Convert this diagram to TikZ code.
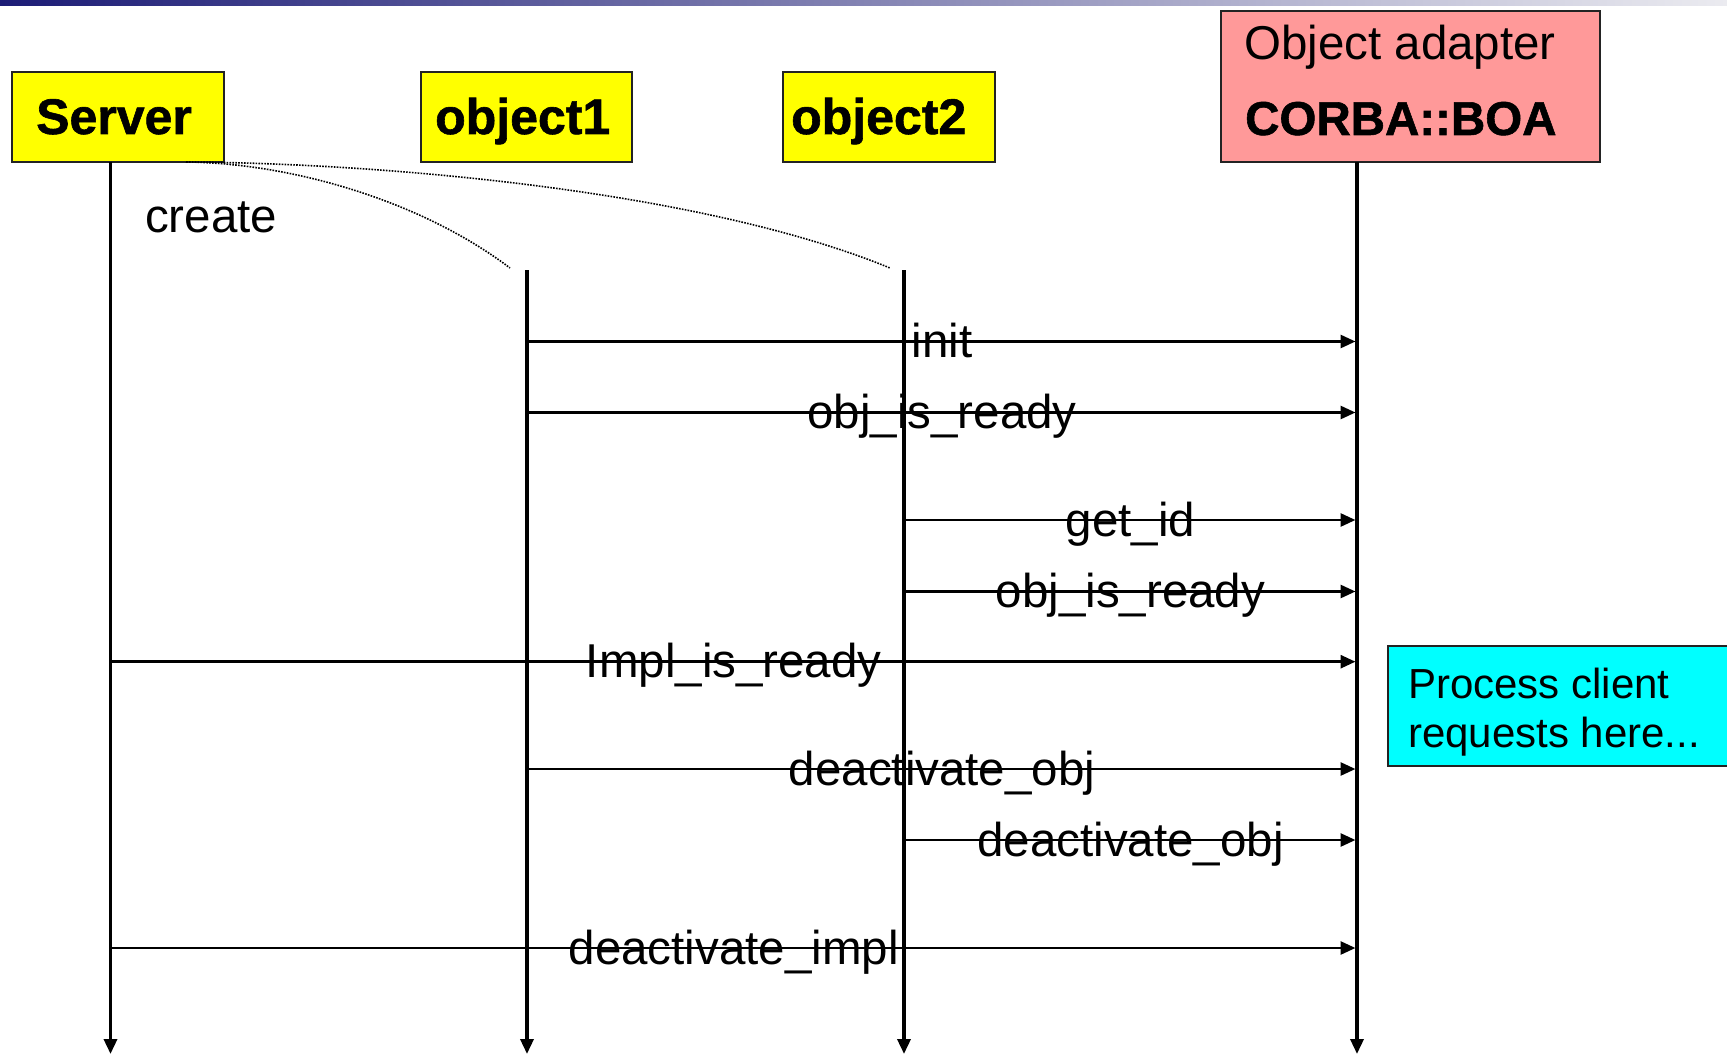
\documentclass[tikz,border=0pt]{standalone}
\usepackage{fontspec}
\setmainfont{Liberation Sans}
\newfontfamily\heavyfont{Liberation Sans Bold}[FakeBold=1.2]
\usetikzlibrary{arrows.meta,calc}
\definecolor{hdryellow}{RGB}{255,255,0}
\definecolor{boapink}{RGB}{255,153,153}
\definecolor{proccyan}{RGB}{0,255,255}
\definecolor{barnavy}{RGB}{28,28,118}
\definecolor{barmid}{RGB}{170,170,200}
\definecolor{barlight}{RGB}{235,235,240}
\definecolor{edgegray}{RGB}{35,35,35}
\begin{document}
\begin{tikzpicture}[x=1pt,y=-1pt,
  box/.style={draw=edgegray, line width=1.6pt, inner sep=0pt, outer sep=0pt, anchor=north west},
  life/.style={line width=3.4pt, -{Triangle[length=15pt,width=13pt]}},
  msg/.style={line width=2.8pt, -{Triangle[length=15pt,width=13pt]}},
  creation/.style={line width=1.6pt, dash pattern=on 1.6pt off 1.3pt},
  lbl/.style={font=\fontsize{47.5}{57}\selectfont, anchor=base, inner sep=0pt, yshift=-16pt},
  hdr/.style={font=\fontsize{50}{60}\heavyfont, anchor=base west, inner sep=0pt},
  plain/.style={font=\fontsize{47.5}{57}\selectfont, anchor=base west, inner sep=0pt},
  note/.style={font=\fontsize{42}{49}\selectfont, anchor=base west, inner sep=0pt},
]
\useasboundingbox (0,0) rectangle (1727,1054);
\fill[white] (0,0) rectangle (1727,1054);

% header shadow bar
\shade[left color=barnavy, middle color=barmid, right color=barlight] (0,0) rectangle (1727,6);

% participants
\node[box, fill=hdryellow, minimum width=212pt, minimum height=90pt] (server) at (12,72) {};
\node[box, fill=hdryellow, minimum width=211pt, minimum height=90pt] (object1) at (421,72) {};
\node[box, fill=hdryellow, minimum width=212pt, minimum height=90pt] (object2) at (783,72) {};
\node[box, fill=boapink, minimum width=379pt, minimum height=151pt] (boa) at (1221,11) {};

\node[hdr] (serverT) at (36,134) {Server};
\node[hdr] (object1T) at (435,134) {object1};
\node[hdr] (object2T) at (791,134) {object2};
\node[plain] (boaT1) at (1244,60) {Object adapter};
\node[plain, font=\fontsize{47.5}{57}\heavyfont] (boaT2) at (1245,135) {CORBA::BOA};

% note box running off the right edge
\begin{scope}
  \clip (0,0) rectangle (1727,1054);
  \node[box, fill=proccyan, minimum width=380pt, minimum height=120pt] (proc) at (1388,646) {};
\end{scope}
\node[note] (procT1) at (1408,698) {Process client};
\node[note] (procT2) at (1408,747) {requests here...};

% lifelines
\coordinate (srvTop) at (110.5,162);
\coordinate (o1Top)  at (527,270);
\coordinate (o2Top)  at (904,270);
\coordinate (boaTop) at (1357,162);
\coordinate (srvEnd) at (110.5,1054);
\coordinate (o1End)  at (527,1054);
\coordinate (o2End)  at (904,1054);
\coordinate (boaEnd) at (1357,1054);
\draw[life] (srvTop) -- (srvEnd);
\draw[life] (o1Top) -- (o1End);
\draw[life] (o2Top) -- (o2End);
\draw[life] (boaTop) -- (boaEnd);

% creation of the objects
\coordinate (creStart) at (186,162);
\coordinate (cre1) at (510,268);
\coordinate (cre2) at (890,268);
\draw[creation] (creStart) .. controls (290,163) and (420,200) .. (cre1);
\draw[creation] (creStart) .. controls (380,163) and (700,190) .. (cre2);
\node[plain] (createT) at (145,232) {create};

% calls on the adapter
\coordinate (m1) at (527,341.5);
\coordinate (m2) at (527,412.5);
\coordinate (m3) at (904,520);
\coordinate (m4) at (904,591.5);
\coordinate (m5) at (110.5,661.7);
\coordinate (m6) at (527,769);
\coordinate (m7) at (904,840);
\coordinate (m8) at (110.5,948);
\foreach \m/\t in {m1/init, m2/obj\_is\_ready, m3/get\_id, m4/obj\_is\_ready,
                   m5/Impl\_is\_ready, m6/deactivate\_obj, m7/deactivate\_obj,
                   m8/deactivate\_impl}{
  \coordinate (\m e) at ([xshift=-1.5pt]\m -| boaTop);
  \draw[msg] (\m) -- (\m e);
  \node[lbl] (\m T) at ($(\m)!0.5!(\m -| boaTop)$) {\t};
}
\end{tikzpicture}
\end{document}
